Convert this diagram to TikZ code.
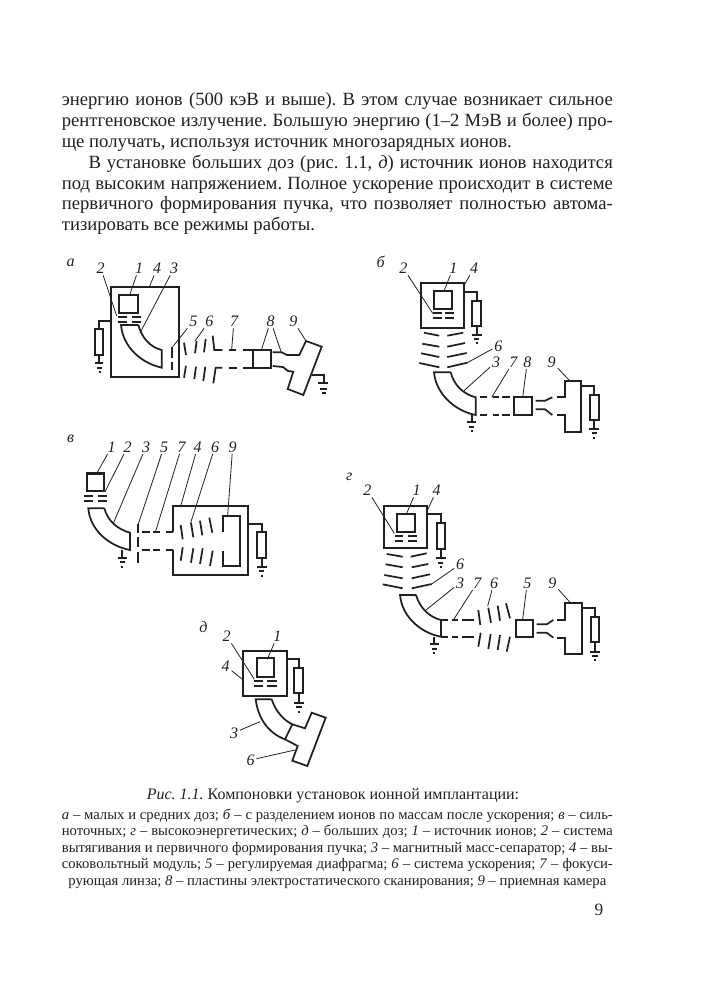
\documentclass[tikz,border=0pt]{standalone}
\usepackage{fontspec}
\setmainfont{Liberation Serif}
\frenchspacing
\definecolor{inkblack}{RGB}{35,31,32}
\tikzset{every picture/.style={line width=1.3pt,color=inkblack}}
\tikzset{panellabel/.style={inner sep=0.75pt,font=\fontsize{12}{12}\itshape\selectfont}}
\tikzset{numlabel/.style={panellabel,text height=8.2pt,text depth=0pt}}
\tikzset{leader/.style={line width=0.6pt}}
\tikzset{thickedge/.style={line width=2.1pt}}
\tikzset{sourcebox/.style={line width=1.7pt}}

\begin{document}
\begin{tikzpicture}[x=0.75pt,y=0.75pt,yscale=-1,xscale=1]
	\useasboundingbox (0,0) rectangle (701,1001);

	% Text Node
	\draw (61,92) node [anchor=north west][inner sep=0pt][text width=413.25pt][align=justify][font=\fontsize{14}{15.6}\selectfont] (bodytext) {энергию ионов (500 кэВ и выше). В этом случае возникает сильное\linebreak рентгеновское излучение. Большую энергию (1–2 МэВ и более) про-\linebreak ще получать, используя источник многозарядных ионов.\par
	\hspace*{20pt}В установке больших доз (рис. 1.1, \textit{д}) источник ионов находится\linebreak под высоким напряжением. Полное ускорение происходит в системе\linebreak первичного формирования пучка, что позволяет полностью автома-\linebreak тизировать все режимы работы.};

	%Panel a
	\draw (70.7,263) node [panellabel] (alabel) {а};
	\draw (100.7,268) node [numlabel] (a2) {2};
	\draw (139,268) node [numlabel] (a1) {1};
	\draw (157,268) node [numlabel] (a4) {4};
	\draw (174,268) node [numlabel] (a3) {3};
	\draw (193.3,321) node [numlabel] (a5) {5};
	\draw (209.3,321) node [numlabel] (a6) {6};
	\draw (234,321) node [numlabel] (a7) {7};
	\draw (270.7,321) node [numlabel] (a8) {8};
	\draw (293.3,321) node [numlabel] (a9) {9};
	\draw [leader] (a2) -- (116.7,316);
	\draw [leader] (a1) -- (130,294);
	\draw [leader] (a4) -- (149,288);
	\draw [leader] (a3) -- (140,333);
	\draw [leader] (a5) -- (172.7,346.7);
	\draw [leader] (a6) -- (195,341);
	\draw [leader] (a7) -- (231.7,349);
	\draw [leader] (a8) -- (261.7,349);
	\draw [leader] (a8) -- (281,351.7);
	\draw [leader] (a9) -- (306,341);
	%Module and source
	\draw (111,287) rectangle (179,377);
	\draw (119.3,295) rectangle (138.3,312.7);
	\draw [thickedge] (119.3,295) -- (138.3,295);
	\draw (117.7,316.7) -- (127.3,316.7) (131.7,316.7) -- (140.7,316.7);
	\draw (117.7,321.7) -- (127.3,321.7) (131.7,321.7) -- (140.7,321.7);
	%Magnet
	\draw (138.3,325) -- (121,325) .. controls (123,347) and (141,363) .. (161.7,367.7) -- (161.7,350) .. controls (150,347) and (142,338) .. (138.3,325);
	%Resistor and ground
	\draw (111,321) -- (99.3,321) -- (99.3,329);
	\draw (95,329) rectangle (103.3,355);
	\draw (99.3,355) -- (99.3,363.3);
	\draw (95,363.3) -- (103.3,363.3) (96.7,367.7) -- (101.7,367.7) (98.5,372) -- (100.5,372);
	%Diaphragm
	\draw (172.3,347.3) -- (172.3,358.3) (172.3,361.7) -- (172.3,370);
	%Accelerating electrodes
	\draw (184,342.7) -- (186,355) (195,353.3) -- (196.7,341) (204,352.3) -- (205.7,339);
	\draw (212.7,335.7) -- (214.3,350) -- (222.3,350);
	\draw (186,365.7) -- (184,377.7) (196,366.7) -- (194.3,379) (205.3,366.7) -- (203.3,381);
	\draw (213.3,383.3) -- (215.7,367.7) -- (222.3,367.7);
	%Lens
	\draw (229,350) -- (236,350) (243.3,350) -- (252.7,350);
	\draw (229,367.7) -- (236.7,367.7) (243.3,367.7) -- (252.7,367.7);
	%Scanning plates and chamber
	\draw (252.7,350) rectangle (270.7,367.7);
	\draw (272.7,352.3) -- (281.7,352.3) -- (287,355) -- (299.3,355) -- (306,341) -- (321.7,346.7) -- (303.3,395) -- (287.7,389) -- (293.3,371.7) -- (288,371) -- (283,367) -- (272.7,366);
	\draw (311.7,375) -- (324,375) -- (324,383.3);
	\draw (318.3,383.3) -- (328.3,383.3) (320,389) -- (326.7,389) (321.5,393.3) -- (325.5,393.3);

	%Panel b
	\draw (380.7,262) node [panellabel] (blabel) {б};
	\draw (403.3,268) node [numlabel] (b2) {2};
	\draw (453.3,267.7) node [numlabel] (b1) {1};
	\draw (474,267.7) node [numlabel] (b4) {4};
	\draw (498.3,345.7) node [numlabel] (b6) {6};
	\draw (496,361.7) node [numlabel] (b3) {3};
	\draw (513.3,361.7) node [numlabel] (b7) {7};
	\draw (527.3,361.7) node [numlabel] (b8) {8};
	\draw (551.7,361.7) node [numlabel] (b9) {9};
	\draw [leader] (b2) -- (432.7,313.3);
	\draw [leader] (b1) -- (444,291);
	\draw [leader] (b4) -- (464.3,285);
	\draw [leader] (b6) -- (467.3,362.7);
	\draw [leader] (b3) -- (464,390.7);
	\draw [leader] (b7) -- (491.7,397.3);
	\draw [leader] (b8) -- (522.7,397.3);
	\draw [leader] (b9) -- (569,380);
	%Module and source
	\draw (421,283.3) rectangle (464.3,327.7);
	\draw [sourcebox] (434,291) rectangle (451.7,309.3);
	\draw (432.7,313.3) -- (441.7,313.3) (445,313.3) -- (454,313.3);
	\draw (432.7,318.3) -- (441.7,318.3) (445,318.3) -- (454,318.3);
	%Resistor and ground
	\draw (464.3,291.7) -- (476.7,291.7) -- (476.7,300.7);
	\draw (472,300.7) rectangle (480.7,326);
	\draw (476.7,326) -- (476.7,335);
	\draw (471.7,335) -- (481.7,335) (473.7,339.3) -- (479.3,339.3) (475.7,343) -- (477.7,343);
	%Accelerating electrodes
	\draw (424,332.7) -- (439.3,335.7) (422.3,343.7) -- (439.3,346.7) (421,353.3) -- (439.3,357) (419.3,363) -- (439.3,367.3);
	\draw (447.3,335.7) -- (463.3,332.7) (447.3,346.7) -- (465,343) (447.3,357) -- (466.7,353) (447.3,367.3) -- (467.3,362.7);
	%Magnet
	\draw (450.7,372.3) -- (434,372.3) .. controls (436,394) and (455,411) .. (475.7,415) -- (475.7,397.3) .. controls (463,394) and (454,385) .. (450.7,372.3);
	\draw (471.7,415) -- (471.7,421.7);
	\draw (467.3,421.7) -- (476,421.7) (469,426.7) -- (474.3,426.7) (470.7,431) -- (472.7,431);
	%Lens
	\draw (480,397.3) -- (486.7,397.3) (492.7,397.3) -- (499,397.3) (501.7,397.3) -- (510,397.3);
	\draw (480,415) -- (486.7,415) (492.7,415) -- (499,415) (501.7,415) -- (510,415);
	%Scanning plates and chamber
	\draw (514,397.3) rectangle (532,415);
	\draw (535.7,400.7) -- (545,400.7) -- (552.3,397.3);
	\draw (535.7,409.3) -- (545,409.3) -- (552.3,415);
	\draw (556.7,397.3) -- (565,397.3) -- (565,380.7) -- (581,380.7) -- (581,431.7) -- (565,431.7) -- (565,415) -- (556.7,415);
	%Resistor and ground
	\draw (581,386) -- (594,386) -- (594,395);
	\draw (590,395) rectangle (598.7,420);
	\draw (594,420) -- (594,429.3);
	\draw (589.3,429.3) -- (599.3,429.3) (591.5,433.3) -- (597,433.3) (593,438) -- (595,438);

	%Panel v
	\draw (70.7,438.3) node [panellabel] (vlabel) {в};
	\draw (111.7,446.7) node [numlabel] (v1) {1};
	\draw (127.7,446.7) node [numlabel] (v2) {2};
	\draw (146,446.7) node [numlabel] (v3) {3};
	\draw (164,446.7) node [numlabel] (v5) {5};
	\draw (181.7,446.7) node [numlabel] (v7) {7};
	\draw (197.7,446.7) node [numlabel] (v4) {4};
	\draw (215,446.7) node [numlabel] (v6) {6};
	\draw (232.7,446.7) node [numlabel] (v9) {9};
	\draw [leader] (v1) -- (97.3,472.3);
	\draw [leader] (v2) -- (105,491.7);
	\draw [leader] (v3) -- (113.3,523.3);
	\draw [leader] (v5) -- (138.3,524);
	\draw [leader] (v7) -- (155.7,531);
	\draw [leader] (v4) -- (180.7,506);
	\draw [leader] (v6) -- (190.7,522.7);
	\draw [leader] (v9) -- (227.7,515);
	%Source
	\draw (86.7,473.3) rectangle (104,491);
	\draw [thickedge] (86.7,473.3) -- (104,473.3);
	\draw (84.3,495.7) -- (93.3,495.7) (98.3,495.7) -- (106.7,495.7);
	\draw (84.3,500.7) -- (93.3,500.7) (98.3,500.7) -- (106.7,500.7);
	%Magnet
	\draw (104.3,508.3) -- (88.3,508.3) .. controls (90,530) and (109,546) .. (130,550) -- (130,532.7) .. controls (117,529) and (108,521) .. (104.3,508.3);
	\draw (122.3,550) -- (122.3,557.7);
	\draw (118.3,557.7) -- (126.7,557.7) (120,562.3) -- (125,562.3) (121.3,566.7) -- (123.3,566.7);
	%Diaphragm
	\draw (138.3,524) -- (138.3,533.3) (138.3,536.7) -- (138.3,547.3) (138.3,551.7) -- (138.3,562.7);
	%Lens
	\draw (141.7,532) -- (150,532) (153.3,532) -- (160,532) (166,532) -- (173.3,532);
	\draw (141.7,550) -- (150,550) (153.3,550) -- (160,550) (166,550) -- (173.3,550);
	%Module
	\draw (173.3,532) -- (173.3,506) -- (248.3,506) -- (248.3,575) -- (173.3,575) -- (173.3,550);
	%Accelerating electrodes
	\draw (180.7,525) -- (182.7,539.3) (191,522.7) -- (193.3,537.3) (200,520.7) -- (202.3,535.3) (209.3,517.7) -- (212.3,532.7);
	\draw (182.7,547.3) -- (180.7,560.7) (193.3,548.3) -- (191,562.7) (202.7,548.3) -- (200,564) (212.7,550.7) -- (210,566);
	%Chamber
	\draw (223.3,531.7) -- (223.3,515.7) -- (240.3,515.7) -- (240.3,566) -- (223.3,566) -- (223.3,550.7);
	%Resistor and ground
	\draw (248.3,524.3) -- (261.7,524.3) -- (261.7,532.3);
	\draw (257.3,532.3) rectangle (265.7,558.3);
	\draw (261.7,558.3) -- (261.7,566.7);
	\draw (256.7,566.7) -- (266.7,566.7) (258.5,571) -- (264,571) (260.7,576) -- (262.7,576);

	%Panel g
	\draw (349.3,477.3) node [panellabel] (glabel) {г};
	\draw (367.3,490) node [numlabel] (g2) {2};
	\draw (416.7,490) node [numlabel] (g1) {1};
	\draw (436.7,490) node [numlabel] (g4) {4};
	\draw (460,564.3) node [numlabel] (g6) {6};
	\draw (460,582.7) node [numlabel] (g3) {3};
	\draw (477.3,582.7) node [numlabel] (g7) {7};
	\draw (494,582.7) node [numlabel] (g6b) {6};
	\draw (527.3,582.7) node [numlabel] (g5) {5};
	\draw (552.3,582.7) node [numlabel] (g9) {9};
	\draw [leader] (g2) -- (394.3,533.3);
	\draw [leader] (g1) -- (406.7,513.3);
	\draw [leader] (g4) -- (427.3,510.7);
	\draw [leader] (g6) -- (431.7,584);
	\draw [leader] (g3) -- (426,610);
	\draw [leader] (g7) -- (454,619);
	\draw [leader] (g6b) -- (487.7,606);
	\draw [leader] (g5) -- (522.7,619);
	\draw [leader] (g9) -- (570,602.3);
	%Module and source
	\draw (384,505.7) rectangle (427.3,548.3);
	\draw [sourcebox] (396.7,514) rectangle (414.7,531.7);
	\draw (395,536) -- (403.3,536) (408.3,536) -- (417.3,536);
	\draw (395,540.7) -- (403.3,540.7) (408.3,540.7) -- (417.3,540.7);
	%Resistor and ground
	\draw (427.3,514) -- (440.7,514) -- (440.7,523.3);
	\draw (436.7,523.3) rectangle (445.3,549);
	\draw (440.7,549) -- (440.7,558.3);
	\draw (435.7,558.3) -- (446,558.3) (437.7,562.7) -- (443.3,562.7) (439.7,566.7) -- (441.7,566.7);
	%Accelerating electrodes
	\draw (386.7,554) -- (402.7,556.7) (385.7,564.3) -- (402.7,567.3) (384.3,575) -- (402.7,578.3) (382.7,584.3) -- (402.7,588.3);
	\draw (410.7,556.7) -- (426.7,553.3) (411.7,567.3) -- (428.3,564) (411.7,578.3) -- (430,574.3) (411.7,588.3) -- (431.7,584);
	%Magnet
	\draw (416,595) -- (400,595) .. controls (402,617) and (421,633) .. (441,636.7) -- (441,620) .. controls (429,617) and (420,608) .. (416,595);
	\draw (434.3,636.7) -- (434.3,644.3);
	\draw (430,644.3) -- (439,644.3) (431.7,649) -- (437,649) (433.3,653) -- (435.3,653);
	%Lens
	\draw (441,619.7) -- (448,619.7) (451.7,619.7) -- (458.3,619.7) (461.7,619.7) -- (474.3,619.7);
	\draw (441,637) -- (448,637) (451.7,637) -- (458.3,637) (461.7,637) -- (474.3,637);
	%Accelerating electrodes
	\draw (478.3,610) -- (480.3,625) (488.3,607.7) -- (491,622.7) (497.7,605.7) -- (500,620.7) (506,603.3) -- (510,618.3);
	\draw (480.7,632.7) -- (478.3,646.7) (490.7,634) -- (488.3,649) (500,635) -- (497.7,650) (510,636.7) -- (506.7,651.7);
	%Diaphragm and chamber
	\draw (515.7,620) rectangle (533.3,636.7);
	\draw (536.7,624.3) -- (546.7,624.3) -- (553.3,620);
	\draw (536.7,632.7) -- (546.7,632.7) -- (553.3,637.7);
	\draw (557.3,620) -- (565.3,620) -- (565.3,602.7) -- (581.7,602.7) -- (581.7,654) -- (565.3,654) -- (565.3,637.7) -- (557.3,637.7);
	%Resistor and ground
	\draw (581.7,607.7) -- (595,607.7) -- (595,616.7);
	\draw (590.7,616.7) rectangle (599.3,642.3);
	\draw (595,642.3) -- (595,651.7);
	\draw (590,651.7) -- (600,651.7) (592.3,655.7) -- (597.7,655.7) (594,660) -- (596,660);

	%Panel d
	\draw (203.3,626.7) node [panellabel] (dlabel) {д};
	\draw (226.7,636) node [numlabel] (d2) {2};
	\draw (277.3,636) node [numlabel] (d1) {1};
	\draw (225.7,666) node [numlabel] (d4) {4};
	\draw (234,732.7) node [numlabel] (d3) {3};
	\draw (250.7,760) node [numlabel] (d6) {6};
	\draw [leader] (d2) -- (254.3,679.3);
	\draw [leader] (d1) -- (267.3,659.3);
	\draw [leader] (d4) -- (243.3,680);
	\draw [leader] (d3) -- (260,721.7);
	\draw [leader] (d6) -- (295,750);
	%Module and source
	\draw (243.3,651) rectangle (286.7,695.7);
	\draw [sourcebox] (256.7,658.3) rectangle (274.3,676.7);
	\draw (254,680.7) -- (263.3,680.7) (267.3,680.7) -- (276.7,680.7);
	\draw (254,686) -- (263.3,686) (267.3,686) -- (276.7,686);
	%Resistor and ground
	\draw (286.7,659.3) -- (299,659.3) -- (299,667.7);
	\draw (294.3,667.7) rectangle (303.3,693.3);
	\draw (299,693.3) -- (299,702.7);
	\draw (294,702.7) -- (304,702.7) (296,707.3) -- (301.7,707.3) (298,712) -- (300,712);
	%Magnet and chamber
	\draw (271.7,699.3) -- (255.7,699.3) .. controls (258,718) and (268,733) .. (285,739.3) -- (292.3,724.3) .. controls (283,720) and (275,710) .. (271.7,699.3);
	\draw (292.3,724.3) -- (305,728.3) -- (311.7,712.7) -- (325.7,717.7) -- (307.3,766) -- (292.3,760.7) -- (297.7,746) -- (285,739.3);

	% Text Node
	\draw (333,796) node [inner sep=0pt][font=\fontsize{12}{13}\selectfont] (captitle) {\textit{Рис. 1.1.} Компоновки установок ионной имплантации:};
	% Text Node
	\draw (61,808) node [anchor=north west][inner sep=0pt][text width=413.25pt][align=justify][font=\fontsize{11}{12.4}\selectfont] (capnotes) {\textit{а} – малых и средних доз; \textit{б} – с разделением ионов по массам после ускорения; \textit{в} – силь-\linebreak ноточных; \textit{г} – высокоэнергетических; \textit{д} – больших доз; \textit{1} – источник ионов; \textit{2} – система\linebreak вытягивания и первичного формирования пучка; \textit{3} – магнитный масс-сепаратор; \textit{4} – вы-\linebreak соковольтный модуль; \textit{5} – регулируемая диафрагма; \textit{6} – система ускорения; \textit{7} – фокуси-\linebreak \hspace*{\fill}рующая линза; \textit{8} – пластины электростатического сканирования; \textit{9} – приемная камера\hspace*{\fill}};
	% Text Node
	\draw (599,910) node [inner sep=0pt][font=\fontsize{13}{15}\selectfont] (pagenum) {9};
\end{tikzpicture}
\end{document}
